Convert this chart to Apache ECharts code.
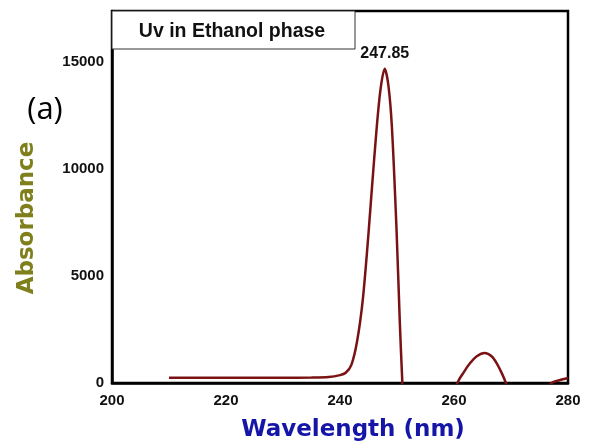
<!DOCTYPE html>
<html>
<head>
<meta charset="utf-8">
<script src="https://cdn.jsdelivr.net/npm/echarts@6/dist/echarts.min.js"></script>
<style>
html,body{margin:0;padding:0;background:#fff;}
#chart{width:592px;height:441px;}
</style>
</head>
<body>
<div id="chart"></div>
<script>
// Data
var wavelength = [210, 215, 220, 225, 230, 235, 238, 240, 241, 242, 243, 244, 245, 246, 247, 247.85, 248.5, 249.1, 249.9, 250.5, 250.9, 251.3,
                  259.8, 260.6, 261.7, 262.8, 264, 265.4, 266.6, 267.5, 268.4, 269.1, 269.8,
                  276.2, 277.1, 278.5, 280];
var absorbance = [250, 250, 250, 250, 250, 255, 280, 370, 480, 850, 1950, 3900, 7000, 10500, 13500, 14700, 13900, 12000, 7300, 2800, 250, -1800,
                  -900, 0, 500, 920, 1250, 1400, 1250, 920, 450, 0, -700,
                  -400, 0, 130, 230];
var xTicks = [200, 220, 240, 260, 280];
var yTicks = [0, 5000, 10000, 15000];
var peakLabel = '247.85';

var chart = echarts.init(document.getElementById('chart'), null, {renderer: 'canvas'});
var seriesData = wavelength.map(function (w, i) {
  var item = {value: [w, absorbance[i]]};
  if (String(w) === peakLabel) {
    item.symbol = 'circle';
    item.symbolSize = 1;
    item.label = {show: true, position: 'top', distance: 7, formatter: peakLabel,
      fontFamily: 'Liberation Sans, Arial', fontWeight: 'bold', fontSize: 16, color: '#111'};
  }
  return item;
});

var option = {
  backgroundColor: '#fff',
  animation: false,
  grid: {left: 112, right: 24, top: 11, bottom: 58, show: true, borderColor: '#000', borderWidth: 2.5,
         backgroundColor: 'transparent', containLabel: false, outerBoundsMode: 'none'},
  xAxis: {
    type: 'value',
    min: xTicks[0], max: xTicks[xTicks.length - 1], interval: xTicks[1] - xTicks[0],
    axisLine: {show: true, onZero: false, lineStyle: {color: '#000', width: 2.5}},
    axisTick: {show: false},
    splitLine: {show: false},
    axisLabel: {fontFamily: 'Liberation Sans, Arial', fontWeight: 'bold', fontSize: 15, color: '#111', margin: 10,
                formatter: function (v) { return String(v); }},
    name: 'Wavelength (nm)', nameLocation: 'middle', nameGap: 36,
    nameTextStyle: {fontFamily: 'DejaVu Sans', fontWeight: 'bold', fontSize: 23, color: '#1515a8', padding: [0, 0, 0, 26]}
  },
  yAxis: {
    type: 'value',
    min: yTicks[0], max: 17400, interval: yTicks[1] - yTicks[0],
    axisLine: {show: true, lineStyle: {color: '#000', width: 2.5}},
    axisTick: {show: false},
    splitLine: {show: false},
    axisLabel: {fontFamily: 'Liberation Sans, Arial', fontWeight: 'bold', fontSize: 15, color: '#111', margin: 8, showMaxLabel: false,
                formatter: function (v) { return String(v); }},
    name: 'Absorbance', nameLocation: 'middle', nameGap: 73,
    nameTextStyle: {fontFamily: 'DejaVu Sans', fontWeight: 'bold', fontSize: 23, color: '#7f7f1c', padding: [0, 42, 0, 0]}
  },
  series: [{
    type: 'line',
    data: seriesData,
    showSymbol: true,
    symbol: 'none',
    smooth: 0.3,
    clip: true,
    lineStyle: {color: '#7a1214', width: 2.5},
    itemStyle: {color: '#7a1214'}
  }],
  graphic: [
    {type: 'rect', x: 112, y: 11, shape: {width: 243, height: 38}, style: {fill: '#fff', stroke: '#333', lineWidth: 1}, z: 100},
    {type: 'text', x: 232, y: 32, style: {text: 'Uv in Ethanol phase', align: 'center', verticalAlign: 'middle',
      fontFamily: 'Liberation Sans, Arial', fontWeight: 'bold', fontSize: 19.5, fill: '#111'}, z: 101},
    {type: 'text', x: 45, y: 110, style: {text: '(a)', align: 'center', verticalAlign: 'middle',
      fontFamily: 'Open Sans', fontSize: 31, fill: '#000'}, z: 101}
  ]
};
chart.setOption(option);
</script>
</body>
</html>
